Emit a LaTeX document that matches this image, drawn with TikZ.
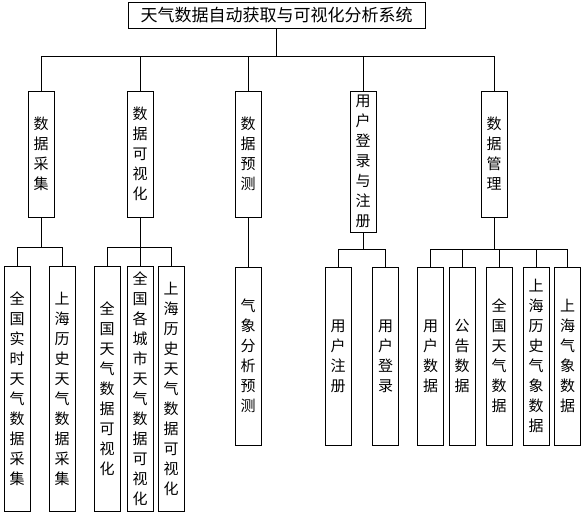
\documentclass[tikz,border=0pt]{standalone}
\usepackage{fontspec}
\setmainfont{Noto Sans CJK SC}
\usepackage{tikz}

\begin{document}
\begin{tikzpicture}[x=1pt, y=-1pt,
  box/.style={draw, thick, fill=white, inner sep=0pt, minimum width=26pt, align=center, font=\fontsize{15pt}{20pt}\selectfont},
  link/.style={draw, thick}]

\useasboundingbox (0,0) rectangle (583,513);

\node[box, minimum width=297pt, minimum height=26pt, font=\fontsize{17pt}{20pt}\selectfont] (root) at (276.5,15) {天气数据自动获取与可视化分析系统};

\node[box, minimum height=126pt] (caiji) at (41,154) {数\\据\\采\\集};
\node[box, minimum height=126pt] (keshi) at (140,154) {数\\据\\可\\视\\化};
\node[box, minimum height=126pt] (yuce) at (248,154) {数\\据\\预\\测};
\node[box, minimum height=141pt] (yonghu) at (363,161.5) {用\\户\\登\\录\\与\\注\\册};
\node[box, minimum height=126pt] (guanli) at (494,154) {数\\据\\管\\理};

\node[box, minimum height=245pt] (cj1) at (17,388.5) {全\\国\\实\\时\\天\\气\\数\\据\\采\\集};
\node[box, minimum height=245pt] (cj2) at (62,388.5) {上\\海\\历\\史\\天\\气\\数\\据\\采\\集};
\node[box, minimum height=245pt] (ks1) at (107,388.5) {全\\国\\天\\气\\数\\据\\可\\视\\化};
\node[box, minimum height=245pt] (ks2) at (140,388.5) {全\\国\\各\\城\\市\\天\\气\\数\\据\\可\\视\\化};
\node[box, minimum height=245pt] (ks3) at (171,388.5) {上\\海\\历\\史\\天\\气\\数\\据\\可\\视\\化};
\node[box, minimum height=178pt] (yc1) at (248,356) {气\\象\\分\\析\\预\\测};
\node[box, minimum height=178pt] (yh1) at (338,356) {用\\户\\注\\册};
\node[box, minimum height=178pt] (yh2) at (385.5,356) {用\\户\\登\\录};
\node[box, minimum height=178pt] (gl1) at (430.5,356) {用\\户\\数\\据};
\node[box, minimum height=178pt] (gl2) at (462,356) {公\\告\\数\\据};
\node[box, minimum height=178pt] (gl3) at (499,356) {全\\国\\天\\气\\数\\据};
\node[box, minimum height=178pt] (gl4) at (536,356) {上\\海\\历\\史\\气\\象\\数\\据};
\node[box, minimum height=178pt] (gl5) at (567.5,356) {上\\海\\气\\象\\数\\据};

\draw[link] (root.south) -- ++(0,28) -| (caiji.north);
\draw[link] (root.south) -- ++(0,28) -| (keshi.north);
\draw[link] (root.south) -- ++(0,28) -| (yuce.north);
\draw[link] (root.south) -- ++(0,28) -| (yonghu.north);
\draw[link] (root.south) -- ++(0,28) -| (guanli.north);

\draw[link] (caiji.south) -- ++(0,30) -| (cj1.north);
\draw[link] (caiji.south) -- ++(0,30) -| (cj2.north);
\draw[link] (keshi.south) -- ++(0,30) -| (ks1.north);
\draw[link] (keshi.south) -- (ks2.north);
\draw[link] (keshi.south) -- ++(0,30) -| (ks3.north);
\draw[link] (yuce.south) -- (yc1.north);
\draw[link] (yonghu.south) -- ++(0,17) -| (yh1.north);
\draw[link] (yonghu.south) -- ++(0,17) -| (yh2.north);
\draw[link] (guanli.south) -- ++(0,32) -| (gl1.north);
\draw[link] (guanli.south) -- ++(0,32) -| (gl2.north);
\draw[link] (guanli.south) -- ++(0,32) -| (gl3.north);
\draw[link] (guanli.south) -- ++(0,32) -| (gl4.north);
\draw[link] (guanli.south) -- ++(0,32) -| (gl5.north);

\end{tikzpicture}
\end{document}
